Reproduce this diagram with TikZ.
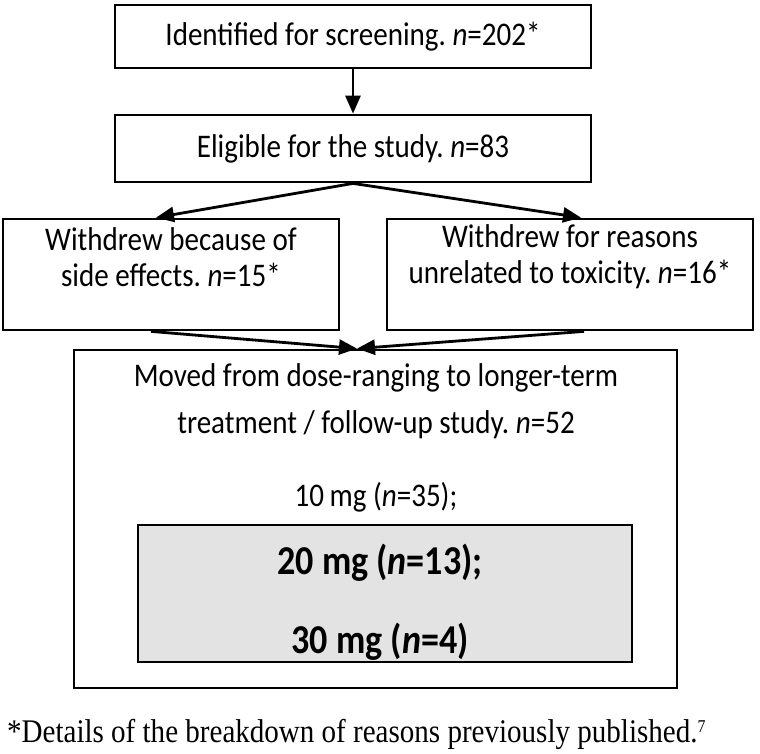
\documentclass[tikz,border=0pt]{standalone}
\usepackage{fontspec}
\setmainfont{Carlito}[FakeStretch=0.88]
\newfontfamily\notefont{Liberation Serif}[FakeStretch=0.88]
\usetikzlibrary{positioning,arrows.meta}
\frenchspacing

\begin{document}
\begin{tikzpicture}[
		x=1pt,y=-1pt
		,box/.style={draw, line width=2.8pt, inner sep=0pt, align=center, font=\fontsize{33}{40}\selectfont}
		,txt/.style={inner sep=0pt, align=center, font=\fontsize{33}{40}\selectfont}
		,dose/.style={inner sep=0pt, font=\bfseries\fontsize{41}{48}\selectfont}
		,link/.style={line width=2.8pt, -{Triangle[length=18pt,width=15pt]}}
	]
		\useasboundingbox (0,0) rectangle (760,754);

		% top of the chart
		\node[box, minimum width=476pt, minimum height=63pt] (screen) at (353,36.5) {Identified for screening. \emph{n}=202*};
		\node[box, minimum width=476pt, minimum height=67pt] (elig) at (353,148.5) {Eligible for the study. \emph{n}=83};

		% withdrawals
		\node[box, minimum width=336pt, minimum height=111pt] (sidefx) at (171,274.5) {};
		\node[txt] (sidefxtxt) at (171,257) {Withdrew because of\\[-4pt]side effects. \emph{n}=15*};
		\node[box, minimum width=366pt, minimum height=111pt] (other) at (570,274.5) {};
		\node[txt] (othertxt) at (570,257) {Withdrew for reasons\\[-4pt]unrelated to toxicity. \emph{n}=16*};

		% follow-up study
		\node[box, minimum width=603pt, minimum height=338pt] (moved) at (375.5,519) {};
		\node[txt] (movedtxt) at (376,401) {Moved from dose-ranging to longer-term\\[7pt]treatment / follow-up study. \emph{n}=52};
		\node[txt] (low) at (376,497) {10\,mg (\emph{n}=35);};
		\node[box, line width=2.4pt, fill=gray!22, minimum width=494pt, minimum height=137pt] (high) at (385,593.5) {};
		\node[dose] (mid) at (380,563) {20 mg (\emph{n}=13);};
		\node[dose] (top) at (380,642) {30 mg (\emph{n}=4)};

		\node[anchor=base west, inner sep=0pt, font=\notefont\fontsize{33}{40}\selectfont] (note) at (7,742) {*Details of the breakdown of reasons previously published.\textsuperscript{\fontsize{18}{20}\selectfont 7}};

		\draw[link] (screen) -- (elig);
		\draw[link] (elig.south) -- ([xshift=-15pt]sidefx.north);
		\draw[link] (elig.south) -- ([xshift=11pt]other.north);
		\draw[link] ([xshift=-20pt]sidefx.south) -- ([xshift=-18.5pt]moved.north);
		\draw[link] ([xshift=14pt]other.south) -- ([xshift=-18.5pt]moved.north);
	\end{tikzpicture}
\end{document}
